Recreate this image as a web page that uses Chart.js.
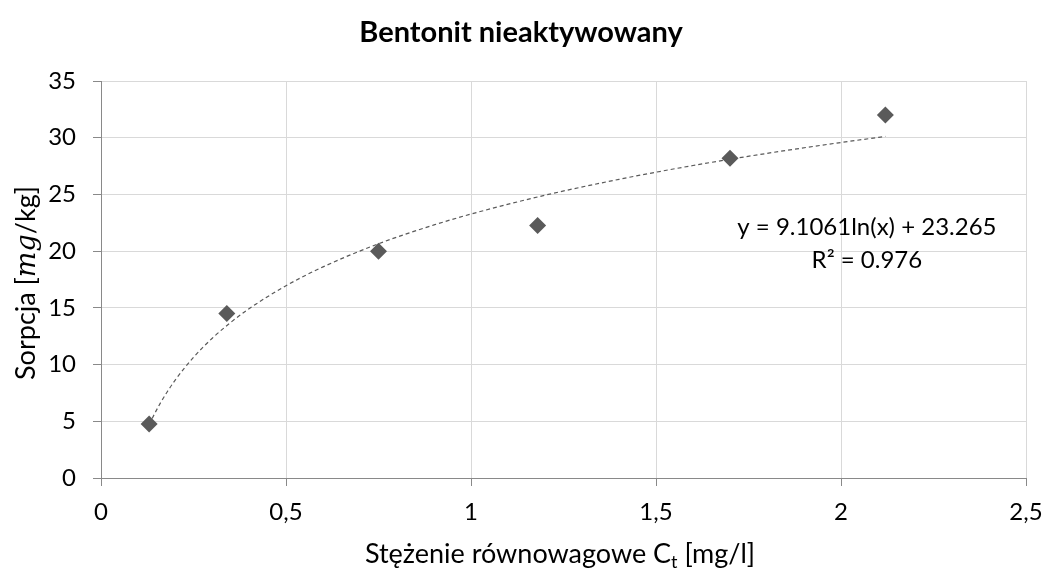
<!DOCTYPE html>
<html>
<head>
<meta charset="utf-8">
<script src="https://cdn.jsdelivr.net/npm/chart.js@4.4.0/dist/chart.umd.min.js"></script>
<style>
  html, body { margin: 0; padding: 0; background: #fff; }
  #wrap { width: 1046px; height: 571px; }
</style>
</head>
<body>
<div id="wrap"><canvas id="chart" width="1046" height="571"></canvas></div>
<script>
const chartTitle = "Bentonit nieaktywowany";

// measured points
const concX = [0.13, 0.34, 0.75, 1.18, 1.70, 2.12];
const sorpY = [4.75, 14.5, 20.0, 22.25, 28.2, 32.0];

// trendline (log fit)
const trendX = [0.13, 0.14, 0.16, 0.18, 0.2, 0.25, 0.3, 0.35, 0.4, 0.5, 0.6, 0.75, 0.9, 1.0, 1.2, 1.4, 1.6, 1.8, 2.0, 2.12];
const trendY = [4.69, 5.36, 6.58, 7.65, 8.61, 10.64, 12.30, 13.70, 14.92, 16.95, 18.61, 20.65, 22.31, 23.27, 24.93, 26.33, 27.55, 28.62, 29.58, 30.11];

const eqLines = ["y = 9.1061ln(x) + 23.265", "R\u00b2 = 0.976"];
const eqAnchor = { x: 2.07, y: 22.1 };

const xTicks = [0, 0.5, 1, 1.5, 2, 2.5];
const yTicks = [0, 5, 10, 15, 20, 25, 30, 35];

const FONT = "Lato, 'Open Sans', sans-serif";
const markerColor = "#5a5a5a";

const textPlugin = {
  id: "texts",
  afterDraw(chart) {
    const ctx = chart.ctx;
    const area = chart.chartArea;
    ctx.save();
    ctx.fillStyle = "#000";

    // title
    ctx.font = "bold 29px " + FONT;
    ctx.textAlign = "center";
    ctx.textBaseline = "alphabetic";
    ctx.fillText(chartTitle, 521, 42);

    // equation
    const sx = chart.scales.x.getPixelForValue(eqAnchor.x);
    const sy = chart.scales.y.getPixelForValue(eqAnchor.y);
    ctx.font = "24px " + FONT;
    ctx.textBaseline = "middle";
    ctx.fillText(eqLines[0], sx, sy);
    ctx.fillText(eqLines[1], sx, sy + 33);

    // x axis title with subscript
    const base = "27px " + FONT;
    const sub = "18px " + FONT;
    const p1 = "St\u0119\u017cenie r\u00f3wnowagowe C";
    const p2 = "t";
    const p3 = " [mg/l]";
    ctx.textAlign = "left";
    ctx.textBaseline = "alphabetic";
    ctx.font = base; const w1 = ctx.measureText(p1).width; const w3 = ctx.measureText(p3).width;
    ctx.font = sub; const w2 = ctx.measureText(p2).width;
    let x0 = 560 - (w1 + w2 + w3) / 2;
    const by = 563;
    ctx.font = base; ctx.fillText(p1, x0, by); x0 += w1;
    ctx.font = sub; ctx.fillText(p2, x0, by + 5); x0 += w2;
    ctx.font = base; ctx.fillText(p3, x0, by);

    // y axis title, rotated, with italic "mg"
    const q1 = "Sorpcja [";
    const q2 = "mg";
    const q3 = "/kg]";
    const ital = "italic 27px 'DejaVu Serif', 'Liberation Serif', serif";
    ctx.font = base; const v1 = ctx.measureText(q1).width; const v3 = ctx.measureText(q3).width;
    ctx.font = ital; const v2 = ctx.measureText(q2).width;
    ctx.translate(35, 283);
    ctx.rotate(-Math.PI / 2);
    let y0 = -(v1 + v2 + v3) / 2;
    ctx.font = base; ctx.fillText(q1, y0, 0); y0 += v1;
    ctx.font = ital; ctx.fillText(q2, y0, 0); y0 += v2;
    ctx.font = base; ctx.fillText(q3, y0, 0);
    ctx.restore();
  }
};

new Chart(document.getElementById("chart"), {
  type: "scatter",
  data: {
    datasets: [
      {
        label: "Sorpcja",
        data: concX.map((x, i) => ({ x, y: sorpY[i] })),
        pointStyle: "rectRot",
        pointRadius: 8.5,
        pointBackgroundColor: markerColor,
        pointBorderColor: markerColor,
        pointBorderWidth: 0,
        showLine: false
      },
      {
        label: "Trend",
        data: trendX.map((x, i) => ({ x, y: trendY[i] })),
        showLine: true,
        borderColor: "#595959",
        borderWidth: 1.2,
        borderDash: [4, 3],
        pointRadius: 0,
        cubicInterpolationMode: "monotone",
        fill: false
      }
    ]
  },
  options: {
    responsive: false,
    animation: false,
    layout: { padding: { left: 0, right: 20, top: 81, bottom: 0 } },
    plugins: { legend: { display: false }, tooltip: { enabled: false }, title: { display: false } },
    scales: {
      x: {
        type: "linear",
        min: 0,
        max: 2.5,
        afterBuildTicks: (axis) => { axis.ticks = xTicks.map(v => ({ value: v })); },
        afterFit: (axis) => { axis.height = 93; axis.paddingLeft = 0; axis.paddingRight = 0; },
        grid: { color: "#d9d9d9", lineWidth: 1, tickLength: 8, tickColor: "#898989" },
        border: { color: "#898989", width: 1 },
        ticks: {
          color: "#000",
          font: { family: FONT, size: 24 },
          padding: 12,
          callback: (v) => String(v).replace(".", ",")
        }
      },
      y: {
        type: "linear",
        min: 0,
        max: 35,
        afterBuildTicks: (axis) => { axis.ticks = yTicks.map(v => ({ value: v })); },
        afterFit: (axis) => { axis.width = 101; axis.paddingTop = 0; axis.paddingBottom = 0; },
        grid: { color: "#d9d9d9", lineWidth: 1, tickLength: 8, tickColor: "#898989" },
        border: { color: "#898989", width: 1 },
        ticks: {
          color: "#000",
          font: { family: FONT, size: 24 },
          padding: 17
        }
      }
    }
  },
  plugins: [textPlugin]
});
</script>
</body>
</html>
